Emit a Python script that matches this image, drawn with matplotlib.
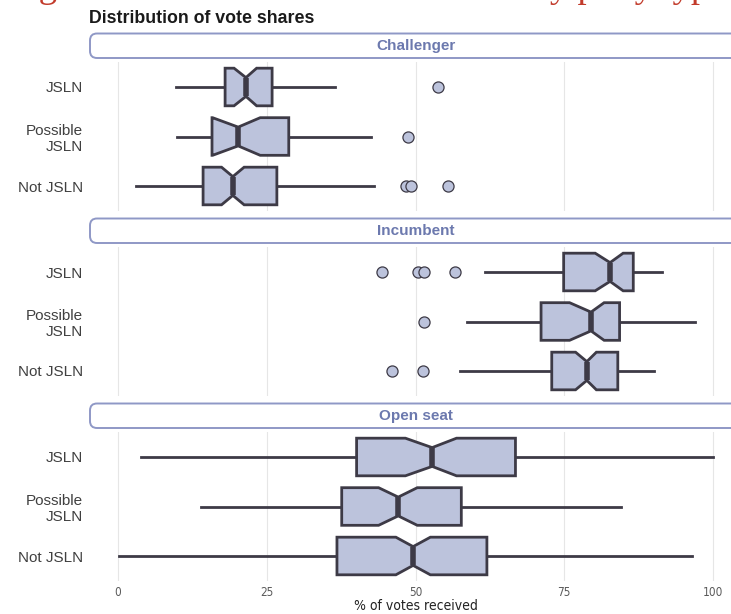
import matplotlib
matplotlib.use("Agg")
import matplotlib.pyplot as plt
from matplotlib.patches import FancyBboxPatch

plt.rcParams['font.family'] = ['Liberation Sans', 'DejaVu Sans']

panels = ['Challenger', 'Incumbent', 'Open seat']
groups = ['JSLN', 'Possible\nJSLN', 'Not JSLN']

# one row per panel, one value per group (JSLN, Possible, Not)
whislo = [[9.8, 9.9, 3.0], [61.6, 58.6, 57.5], [3.8, 14.0, 0.2]]
q1 = [[18.0, 15.8, 14.3], [74.9, 71.1, 72.9], [40.1, 37.6, 36.8]]
med = [[21.5, 20.2, 19.3], [82.7, 79.5, 78.8], [52.8, 47.1, 49.6]]
q3 = [[25.9, 28.7, 26.7], [86.6, 84.3, 84.0], [66.8, 57.7, 62.0]]
whishi = [[36.4, 42.5, 43.0], [91.5, 96.9, 90.0], [100.0, 84.5, 96.5]]
cilo = [[19.5, 15.9, 17.4], [80.2, 75.9, 76.9], [48.3, 43.8, 46.7]]
cihi = [[23.3, 23.9, 21.2], [84.9, 81.7, 80.4], [56.9, 50.3, 52.5]]
fliers = [[[53.7], [48.7], [48.4, 49.2, 55.4]],
          [[44.3, 50.5, 51.4, 56.7], [51.5], [46.1, 51.2]],
          [[], [], []]]

xticks = [0, 25, 50, 75, 100]

fill = '#bcc3dc'
edge = '#3d3a46'
strip_edge = '#8f98c6'
strip_text = '#6c79ae'

W, H = 731, 614
fig = plt.figure(figsize=(W / 100, H / 100), dpi=100)

# red heading, cut off at the top of the screenshot
fig.text(8 / W, 1 + 3 / H, 'Figure 3: Vote shares of candidates by party type',
         family='Liberation Serif', fontsize=26.5, color='#c23b2b', va='baseline', ha='left')

fig.text(89 / W, 1 - 23 / H, 'Distribution of vote shares', fontsize=12.8,
         fontweight='bold', color='#1a1a1a', va='baseline', ha='left')

panel_top = [62.25, 247.25, 432.25]
strip_top = [33.5, 218.5, 403.5]
panel_h = 148.5
left_px, right_px = 90, 741
x0 = 118
ppu = 5.95

for i, name in enumerate(panels):
    bottom = (H - panel_top[i] - panel_h) / H
    ax = fig.add_axes([left_px / W, bottom, (right_px - left_px) / W, panel_h / H])
    stats = []
    for j in range(3):
        stats.append(dict(med=med[i][j], q1=q1[i][j], q3=q3[i][j],
                          whislo=whislo[i][j], whishi=whishi[i][j],
                          cilo=cilo[i][j], cihi=cihi[i][j], fliers=fliers[i][j]))
    ax.bxp(stats, positions=[1, 2, 3], widths=0.76, orientation='horizontal',
           shownotches=True, showcaps=False, patch_artist=True,
           boxprops=dict(facecolor=fill, edgecolor=edge, linewidth=2.0, zorder=3),
           medianprops=dict(color=edge, linewidth=4.0, solid_capstyle='butt', zorder=4),
           whiskerprops=dict(color=edge, linewidth=2.0, zorder=2),
           flierprops=dict(marker='o', markersize=8, markerfacecolor=fill,
                           markeredgecolor=edge, markeredgewidth=0.9, zorder=3))
    ax.set_xlim((left_px - x0) / ppu, (right_px - x0) / ppu)
    ax.set_ylim(3.5, 0.5)
    ax.set_yticks([1, 2, 3])
    ax.set_yticklabels(groups, fontsize=11, color='#404040', multialignment='right')
    ax.set_xticks(xticks)
    ax.grid(axis='x', color='#e6e6e6', linewidth=0.8)
    ax.set_axisbelow(True)
    for s in ax.spines.values():
        s.set_visible(False)
    ax.tick_params(length=0, pad=5)
    if i < 2:
        ax.set_xticklabels([])
    else:
        ax.set_xticklabels([str(t) for t in xticks], fontsize=8.5, color='#5a5a5a',
                           family='DejaVu Sans', fontstretch='condensed')
        ax.tick_params(axis='x', pad=4)
        ax.set_xlabel('% of votes received', fontsize=10, color='#222222',
                      family='DejaVu Sans', fontstretch='condensed', labelpad=0)

    # facet strip
    sb = (H - strip_top[i] - 24.5) / 100
    strip = FancyBboxPatch((left_px / 100, sb), (right_px + 20 - left_px) / 100, 0.245,
                           boxstyle='round,pad=0,rounding_size=0.07',
                           transform=fig.dpi_scale_trans, facecolor='white',
                           edgecolor=strip_edge, linewidth=1.4)
    fig.add_artist(strip)
    fig.text(416 / W, (H - strip_top[i] - 12.5) / H, name, fontsize=11,
             fontweight='bold', color=strip_text, ha='center', va='center')

fig.savefig('out.png', dpi=100)
